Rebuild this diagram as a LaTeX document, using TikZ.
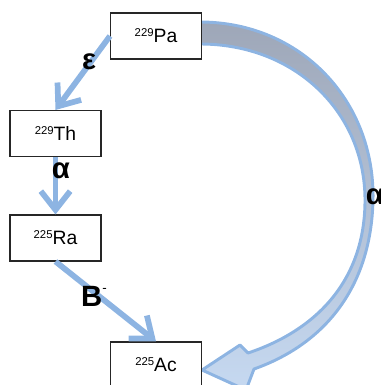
\documentclass[tikz,border=0pt]{standalone}
\usepackage{fontspec}
\setmainfont{Liberation Sans}
\usetikzlibrary{arrows.meta,calc}
\definecolor{arrblue}{HTML}{8DB4E2}
\definecolor{headblue}{HTML}{C6D9F1}
\definecolor{bandgray}{HTML}{9EA7B8}
\newcommand\isotope[2]{\raisebox{4.6pt}{\fontsize{8.5}{8.5}\selectfont #1}#2}
\begin{document}
\begin{tikzpicture}[x=0.75pt,y=-0.75pt,
  nuc/.style={draw=black!85, line width=0.8pt, minimum width=68.25pt, minimum height=34.5pt, inner sep=0pt, font=\fontsize{14.5}{14.5}\selectfont},
  arr/.style={draw=arrblue, line width=4.3pt, -{Straight Barb[length=14pt,width=22pt]}},
  lab/.style={font=\fontsize{22}{22}\selectfont\bfseries, inner sep=0pt}]
\useasboundingbox (0,0) rectangle (381,385);
% curved block arrow
\coordinate (c1) at (200,22);
\coordinate (c2) at (373,200);
\coordinate (c3) at (254,369);
\coordinate (b1) at (246,390);
\coordinate (tip) at (202,370);
\coordinate (b2) at (240,345);
\coordinate (c4) at (248,353);
\coordinate (c5) at (365,200);
\coordinate (c6) at (200,44);
\path[draw=arrblue, line width=2.2pt, line join=round, top color=bandgray, bottom color=headblue]
  (c1) .. controls (300,22) and (375,100) .. (c2)
  .. controls (371,290) and (322,345) .. (c3)
  -- (b1) -- (tip) -- (b2) -- (c4)
  .. controls (317,330) and (365,280) .. (c5)
  .. controls (365,112) and (295,44) .. (c6) -- cycle;
% nodes
\node[nuc, fill=white] (Pa) at (156,36) {\isotope{229}{Pa}};
\node[nuc, fill=white] (Th) at (55.5,133.5) {\isotope{229}{Th}};
\node[nuc, fill=white] (Ra) at (55.5,238) {\isotope{225}{Ra}};
\node[nuc, fill=white] (Ac) at (156,365) {\isotope{225}{Ac}};
% straight arrows
\draw[arr] (Pa.west) -- (Th.north);
\draw[arr] (Th.south) -- (Ra.north);
\draw[arr] (Ra.south) -- (Ac.north);
% labels
\node[lab] (le) at (89,62) {ε};
\node[lab] (la) at (61,171) {α};
\node[lab] (lb) at (94,296) {B\raisebox{10pt}{\fontsize{10}{10}\selectfont\mdseries -}};
\node[lab] (la2) at (375,197) {α};
\end{tikzpicture}
\end{document}
